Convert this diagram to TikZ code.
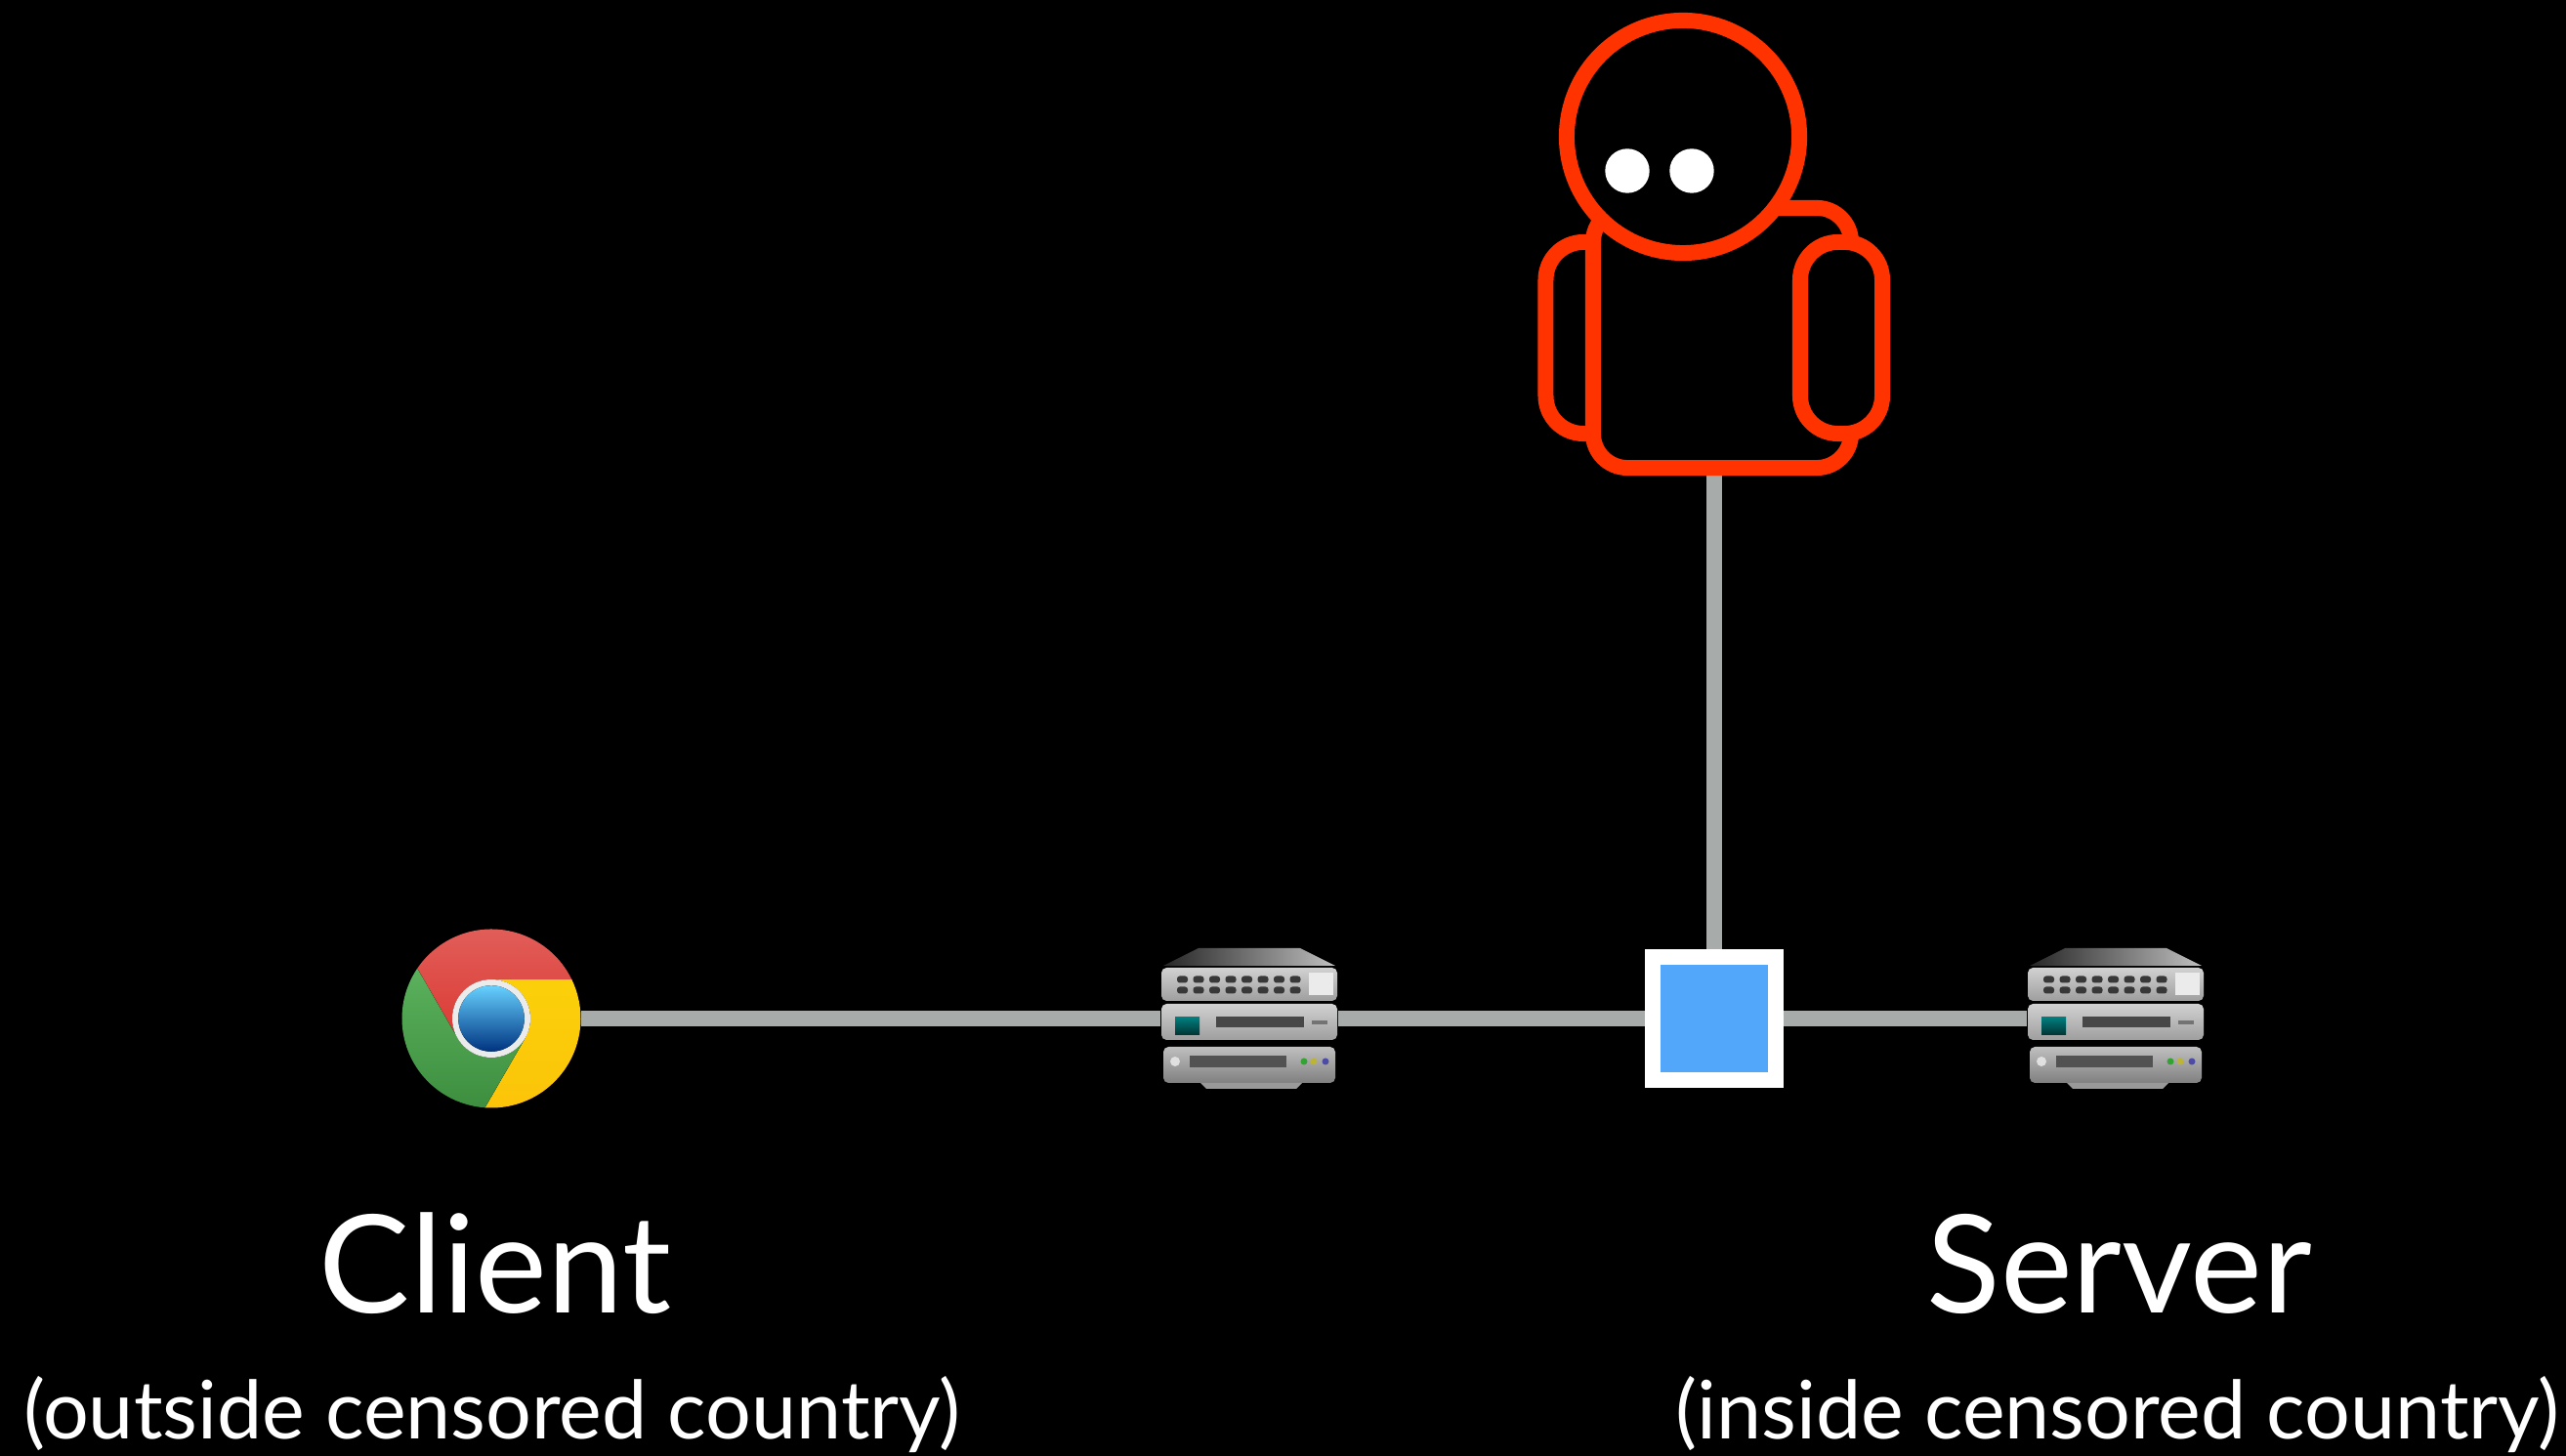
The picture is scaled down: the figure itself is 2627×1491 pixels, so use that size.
\documentclass[tikz,border=0pt]{standalone}
\usepackage{fontspec}
\setmainfont{Lato}
\usetikzlibrary{backgrounds}

\tikzset{
    wire/.style={draw=wiregray, line width=0.16cm},
    limb/.style={draw=adversary, fill=black, line width=0.16cm, inner sep=0pt},
    bigname/.style={text=white, anchor=base, inner sep=0pt, font=\fontsize{39.7}{46}\selectfont},
    smallnote/.style={text=white, anchor=base, inner sep=0pt, font=\fontsize{23.5}{28}\selectfont},
    % a stack of three network boxes, drawn around (0,0)
    router/.pic={
        % slanted lid
        \fill[left color=black!85, right color=black!25] (-52,72) -- (52,72) -- (88,54) -- (-88,54) -- cycle;
        % top box with the ports
        \fill[rounded corners=1.5pt, top color=black!18, bottom color=black!38] (-90,52) rectangle (90,18);
        \foreach \i in {0,...,7} {
            \foreach \row in {40,29} {
                \fill[black!78, rounded corners=0.8pt] (-74+\i*16.5,\row-3.5) rectangle ++(11,7);
            }
        }
        \fill[black!8] (61,47) rectangle (86,24);
        % middle box
        \fill[rounded corners=1.5pt, top color=black!18, bottom color=black!38] (-90,15) rectangle (90,-22);
        \fill[top color=teal!60!cyan!70!black, bottom color=teal!40!black] (-76,1) rectangle (-51,-17);
        \fill[black!72] (-34,2) rectangle (56,-9);
        \fill[black!55] (64,-2) rectangle (80,-6);
        % bottom box, faded
        \fill[rounded corners=1.5pt, top color=black!25, bottom color=black!50] (-88,-29) rectangle (88,-66);
        \fill[black!68] (-61,-38) rectangle (38,-50);
        \fill[black!12] (-76,-44) circle (5);
        \fill[green!55!black!80] (56,-44) circle (3.5);
        \fill[yellow!70!black] (66,-44) circle (3.5);
        \fill[blue!50!black!70] (78,-44) circle (3.5);
        % foot
        \fill[black!40] (-50,-66) -- (54,-66) -- (48,-72) -- (-44,-72) -- cycle;
    }
}

\begin{document}
\begin{tikzpicture}[x=0.01cm,y=0.01cm]

    % Colors
    \definecolor{wiregray}{RGB}{167,171,169}
    \definecolor{adversary}{RGB}{255,51,0}
    \definecolor{tapblue}{RGB}{82,167,250}
    \definecolor{chromered}{RGB}{219,58,52}
    \definecolor{chromegreen}{RGB}{72,168,74}
    \definecolor{chromeyellow}{RGB}{251,208,10}

    \useasboundingbox (0,0) rectangle (2627,1491);

    % Nodes on the path
    \node[circle, minimum size=1.83cm, inner sep=0pt] (client) at (503,448) {};
    \node[minimum width=1.8cm, minimum height=1.43cm, inner sep=0pt] (gw1) at (1279,448) {};
    \node[draw=white, fill=tapblue, line width=0.16cm, minimum size=1.26cm, inner sep=0pt] (tap) at (1755,448) {};
    \node[minimum width=1.8cm, minimum height=1.43cm, inner sep=0pt] (gw2) at (2166,448) {};

    % The watcher
    \node[limb, rounded corners=11pt, minimum width=0.97cm, minimum height=1.96cm] (larm) at (1631,1145) {};
    \node[limb, rounded corners=10pt, minimum width=2.64cm, minimum height=2.66cm] (body) at (1763,1145) {};
    \node[limb, circle, minimum size=2.38cm] (head) at (1723,1351) {};
    \node[limb, rounded corners=11pt, minimum width=0.84cm, minimum height=1.96cm] (rarm) at (1885,1145) {};
    \fill[white] (1666,1316) circle (22.7);
    \fill[white] (1732,1316) circle (22.7);

    % Wires, behind everything
    \begin{scope}[on background layer]
        \fill[black] (0,0) rectangle (2627,1491);
        \draw[wire] (client) -- (gw1) -- (tap) -- (gw2);
        \draw[wire] (tap.north) -- (tap.north |- body.south);
    \end{scope}

    % Browser icon
    \begin{scope}[shift={(client.center)}]
        \fill[top color=chromered!80!white, bottom color=chromered] (25.9:91.5) arc (25.9:145.9:91.5) -- (210:40) arc (210:90:40) -- cycle;
        \fill[top color=chromeyellow, bottom color=chromeyellow!85!orange] (-94.1:91.5) arc (-94.1:25.9:91.5) -- (90:40) arc (90:-30:40) -- cycle;
        \fill[top color=chromegreen!90!white, bottom color=chromegreen!85!black] (145.9:91.5) arc (145.9:265.9:91.5) -- (330:40) arc (330:210:40) -- cycle;
        \fill[black!8] (0,0) circle (40);
        \fill[top color=blue!30!cyan!60!white, bottom color=blue!60!cyan!50!black] (0,0) circle (33.8);
    \end{scope}

    % Switches
    \pic at (gw1) {router};
    \pic at (gw2) {router};

    % Labels
    \node[bigname] (clientname) at (507,146) {Client};
    \node[smallnote] (clientnote) at (504,17) {(outside censored country)};
    \node[bigname] (servername) at (2170,146) {Server};
    \node[smallnote] (servernote) at (2168,17) {(inside censored country)};

\end{tikzpicture}
\end{document}
